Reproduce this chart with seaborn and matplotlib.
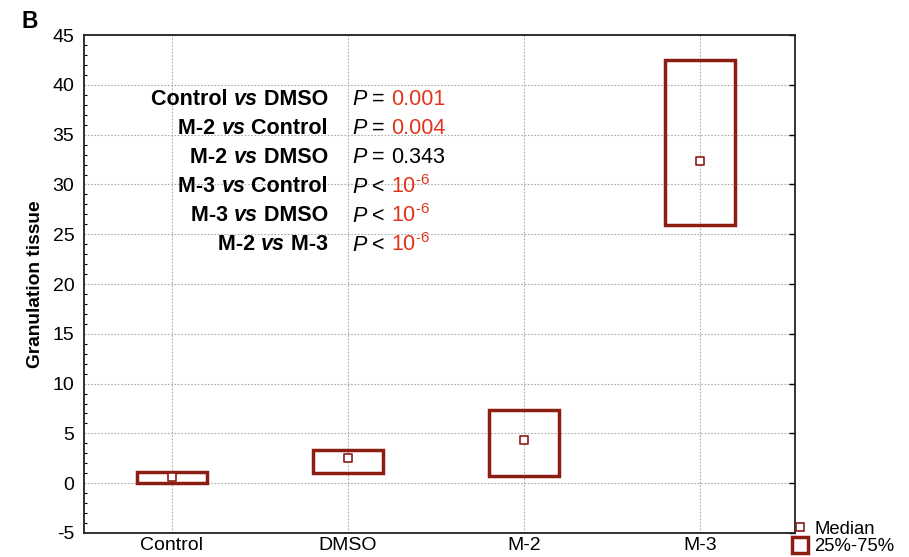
import numpy as np
import pandas as pd
import matplotlib
matplotlib.use("Agg")
import matplotlib.pyplot as plt
import seaborn as sns
from matplotlib.lines import Line2D
from matplotlib.offsetbox import TextArea, HPacker, AnnotationBbox

# Data
groups = ['Control', 'DMSO', 'M-2', 'M-3']
q25 = [0.0, 1.0, 0.7, 25.9]
q75 = [1.1, 3.3, 7.4, 42.5]
medians = [0.6, 2.5, 4.3, 32.4]

comparisons = [('Control', 'DMSO'), ('M-2', 'Control'), ('M-2', 'DMSO'),
               ('M-3', 'Control'), ('M-3', 'DMSO'), ('M-2', 'M-3')]
p_signs = ['=', '=', '=', '<', '<', '<']
p_values = ['0.001', '0.004', '0.343', '10^-6', '10^-6', '10^-6']
p_significant = [True, True, False, True, True, True]

df = pd.DataFrame({'group': groups, 'q25': q25, 'q75': q75, 'median': medians})
df['x'] = np.arange(len(groups))

sns.set_style("white")
plt.rcParams['font.family'] = ['Liberation Sans', 'DejaVu Sans']
plt.rcParams['axes.unicode_minus'] = False
plt.rcParams['mathtext.fontset'] = 'custom'
plt.rcParams['mathtext.rm'] = 'Liberation Sans'
plt.rcParams['mathtext.it'] = 'Liberation Sans:italic'
plt.rcParams['mathtext.bf'] = 'Liberation Sans:bold'
for k in ['text.color', 'axes.labelcolor', 'xtick.color', 'ytick.color']:
    plt.rcParams[k] = 'black'

box_col = '#8c1d12'
red_txt = '#e2341d'

fig = plt.figure(figsize=(9.09, 5.57), dpi=100)
ax = fig.add_axes([0.0924, 0.0431, 0.7822, 0.8939])

# interquartile boxes
ax.bar(df['x'], df['q75'] - df['q25'], bottom=df['q25'], width=0.4,
       fill=False, edgecolor=box_col, linewidth=2.5, zorder=3)
# medians
sns.scatterplot(data=df, x='x', y='median', marker='s', s=40,
                facecolor='white', edgecolor=box_col, linewidth=1.2,
                ax=ax, zorder=4, legend=False)

ax.set_xlim(-0.5, 3.54)
ax.set_ylim(-5, 45)
ax.set_xticks(df['x'])
ax.set_xticklabels(groups, fontsize=14)
ax.set_yticks(np.arange(-5, 46, 5))
ax.set_yticks(np.arange(-5, 46, 1), minor=True)
ax.tick_params(axis='y', labelsize=14, direction='in', right=True, length=4, width=1, pad=7)
ax.tick_params(axis='y', which='minor', direction='in', left=True, right=False, length=2, width=0.8)
ax.tick_params(axis='x', direction='in', top=False, length=4, width=1, pad=3)
ax.set_xlabel('')
ax.set_ylabel('Granulation tissue', fontsize=13.8, fontweight='bold', labelpad=6)
ax.grid(True, which='major', linestyle=(0, (1.5, 1.5)), color='#aaaaaa', linewidth=0.8)
for sp in ax.spines.values():
    sp.set_color('#222222')
    sp.set_linewidth(1.3)

# comparison annotations
fs = 15.5
y_start = 38.5
row_gap = 2.9
for i, ((a, b), sign, pv, sig) in enumerate(zip(comparisons, p_signs, p_values, p_significant)):
    y = y_start - i * row_gap
    label = HPacker(children=[
        TextArea(a + ' ', textprops=dict(fontsize=fs, fontweight='bold')),
        TextArea('vs', textprops=dict(fontsize=fs, fontweight='bold', fontstyle='italic')),
        TextArea(' ' + b, textprops=dict(fontsize=fs, fontweight='bold')),
    ], align='baseline', pad=0, sep=0)
    ab = AnnotationBbox(label, (0.343, y), xycoords=('axes fraction', 'data'),
                        box_alignment=(1, 0.5), frameon=False, pad=0)
    ax.add_artist(ab)

    vcol = red_txt if sig else 'black'
    if pv.startswith('10^'):
        val_txt = r'$10^{\text{' + pv[3:] + '}}$'
    else:
        val_txt = pv
    pbox = HPacker(children=[
        TextArea('P', textprops=dict(fontsize=fs, fontstyle='italic')),
        TextArea(' ' + sign + ' ', textprops=dict(fontsize=fs)),
        TextArea(val_txt, textprops=dict(fontsize=fs, color=vcol)),
    ], align='baseline', pad=0, sep=0)
    ab2 = AnnotationBbox(pbox, (0.377, y), xycoords=('axes fraction', 'data'),
                         box_alignment=(0, 0.5), frameon=False, pad=0)
    ax.add_artist(ab2)

# panel letter
fig.text(0.024, 0.962, 'B', fontsize=16.5, fontweight='bold', va='center', ha='left')

# legend
handles = [
    Line2D([], [], linestyle='none', marker='s', markersize=6, markerfacecolor='white',
           markeredgecolor=box_col, markeredgewidth=1.2),
    Line2D([], [], linestyle='none', marker='s', markersize=12, markerfacecolor='white',
           markeredgecolor=box_col, markeredgewidth=2.5),
]
fig.legend(handles, ['Median', '25%-75%'], loc='upper left',
           bbox_to_anchor=(0.861, 0.082), frameon=False, fontsize=13.3,
           handlelength=0.9, handletextpad=0.3, labelspacing=0.05, borderpad=0)

fig.savefig('out.png', dpi=100)
